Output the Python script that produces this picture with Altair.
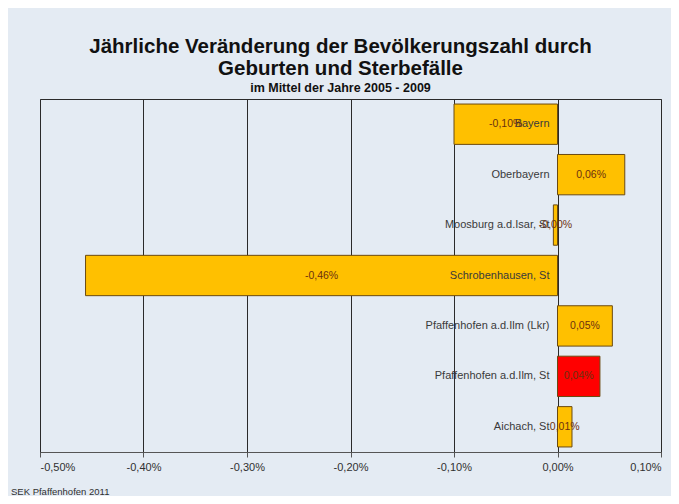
import altair as alt
import pandas as pd

categories = [
    "Bayern",
    "Oberbayern",
    "Moosburg a.d.Isar, St",
    "Schrobenhausen, St",
    "Pfaffenhofen a.d.Ilm (Lkr)",
    "Pfaffenhofen a.d.Ilm, St",
    "Aichach, St",
]
values = [-0.100, 0.065, -0.004, -0.456, 0.053, 0.041, 0.014]
value_labels = ["-0,10%", "0,06%", "-0,00%", "-0,46%", "0,05%", "0,04%", "0,01%"]
highlight = "Pfaffenhofen a.d.Ilm, St"
tick_values = [-0.5, -0.4, -0.3, -0.2, -0.1, 0.0, 0.1]

df = pd.DataFrame({"cat": categories, "val": values, "lbl": value_labels})

W, H = 621, 353
FONT = "Liberation Sans"

xscale = alt.Scale(domain=[-0.5, 0.1], nice=False, zero=False)
yenc = alt.Y("cat:N", sort=categories, axis=None,
             scale=alt.Scale(paddingInner=0.2, paddingOuter=0.1))

base = alt.Chart(df)

bars = base.mark_bar(stroke="#6b4a10", strokeWidth=1).encode(
    x=alt.X("val:Q", scale=xscale,
            axis=alt.Axis(values=tick_values, title=None, grid=True,
                          gridColor="#2a2a2a", gridWidth=1,
                          domainColor="#555555", tickColor="#555555",
                          tickSize=5, labelFont=FONT, labelFontSize=11,
                          labelColor="#303030", labelPadding=4,
                          labelExpr="replace(replace(format(datum.value, '.2f'), '.', ','), '\u2212', '-') + '%'")),
    x2=alt.datum(0),
    y=yenc,
    color=alt.condition(alt.datum.cat == highlight, alt.value("#FF0000"), alt.value("#FFC000")),
)

cat_text = base.mark_text(align="right", baseline="middle", dx=-8, font=FONT,
                          fontSize=11, color="#3a3a3a").encode(
    x=alt.datum(0), y=yenc, text="cat:N")

val_text = base.transform_calculate(mid="datum.val / 2").mark_text(
    align="center", baseline="middle", font=FONT, fontSize=10.5,
    color="#6b3010").encode(
    x=alt.X("mid:Q", scale=xscale), y=yenc, text="lbl:N")

footer = alt.Chart(pd.DataFrame({"t": ["SEK Pfaffenhofen 2011"]})).mark_text(
    align="left", baseline="middle", font=FONT, fontSize=9.5, color="#303030").encode(
    x=alt.value(-29), y=alt.value(H + 40), text="t:N")

chart = alt.layer(bars, cat_text, val_text, footer).properties(
    width=W, height=H,
    padding={"left": 32, "top": 91, "right": 10, "bottom": 44},
    autosize=alt.AutoSizeParams(type="none"),
    title=alt.Title(
        ["Jährliche Veränderung der Bevölkerungszahl durch", "Geburten und Sterbefälle"],
        subtitle="im Mittel der Jahre 2005 - 2009",
        font=FONT, fontSize=20.5, fontWeight="bold", color="#111111", lineHeight=22,
        subtitleFont=FONT, subtitleFontSize=12.5, subtitleFontWeight="bold",
        subtitleColor="#111111", subtitlePadding=2, offset=5, anchor="middle", dx=-10,
    ),
).configure(background="#E4EBF3").configure_view(stroke="#2a2a2a", strokeWidth=1)

chart.save("out.html", embed_options={"renderer": "svg", "actions": False})
